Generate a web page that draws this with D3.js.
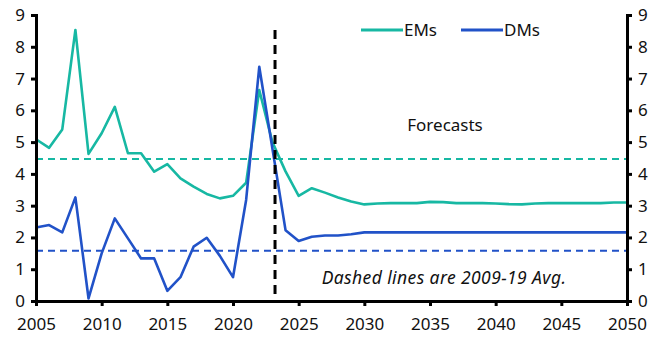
<!DOCTYPE html>
<html>
<head>
<meta charset="utf-8">
<script src="https://cdn.jsdelivr.net/npm/d3@7"></script>
<style>
  body { margin: 0; background: #fff; }
  text { font-family: "Noto Sans", "Open Sans", sans-serif; fill: #111; }
</style>
</head>
<body>
<svg id="chart" width="666" height="350"></svg>
<script>
var years = d3.range(2005, 2051);
var ems = [5.09, 4.82, 5.40, 8.53, 4.63, 5.28, 6.11, 4.65, 4.65, 4.07,
           4.31, 3.86, 3.60, 3.37, 3.23, 3.31, 3.72, 6.64, 5.00, 4.08,
           3.31, 3.55, 3.41, 3.26, 3.13, 3.04, 3.07, 3.08, 3.08, 3.08,
           3.12, 3.11, 3.08, 3.08, 3.08, 3.07, 3.05, 3.04, 3.07, 3.08,
           3.08, 3.08, 3.08, 3.08, 3.10, 3.10];
var dms = [2.31, 2.39, 2.16, 3.26, 0.08, 1.50, 2.60, 1.97, 1.34, 1.34,
           0.32, 0.75, 1.71, 1.99, 1.42, 0.75, 3.18, 7.37, 4.80, 2.23,
           1.89, 2.02, 2.06, 2.06, 2.10, 2.16, 2.16, 2.16, 2.16, 2.16,
           2.16, 2.16, 2.16, 2.16, 2.16, 2.16, 2.16, 2.16, 2.16, 2.16,
           2.16, 2.16, 2.16, 2.16, 2.16, 2.16];
var emAvg = 4.47, dmAvg = 1.58;
var forecastStart = 2023.2;
var xTicks = d3.range(2005, 2051, 5);
var yTicks = d3.range(0, 10);

var emColor = "#17b8a3", dmColor = "#2152c8";

var svg = d3.select("#chart"),
    margin = {top: 15, right: 39, bottom: 49, left: 36},
    width = 666 - margin.left - margin.right,
    height = 350 - margin.top - margin.bottom;

var x = d3.scaleLinear().domain([2005, 2050]).range([0, width]),
    y = d3.scaleLinear().domain([0, 9]).range([height, 0]);

var g = svg.append("g")
    .attr("transform", "translate(" + margin.left + "," + margin.top + ")");

// average lines
g.append("line")
    .attr("x1", 0).attr("x2", width)
    .attr("y1", y(emAvg)).attr("y2", y(emAvg))
    .attr("stroke", emColor).attr("stroke-width", 2)
    .attr("stroke-dasharray", "7,5");
g.append("line")
    .attr("x1", 0).attr("x2", width)
    .attr("y1", y(dmAvg)).attr("y2", y(dmAvg))
    .attr("stroke", dmColor).attr("stroke-width", 2)
    .attr("stroke-dasharray", "7,5");

var line = d3.line()
    .x(function (d, i) { return x(years[i]); })
    .y(function (d) { return y(d); });

g.append("path").datum(ems)
    .attr("fill", "none").attr("stroke", emColor)
    .attr("stroke-width", 2.6).attr("stroke-linejoin", "round")
    .attr("d", line);
g.append("path").datum(dms)
    .attr("fill", "none").attr("stroke", dmColor)
    .attr("stroke-width", 2.6).attr("stroke-linejoin", "round")
    .attr("d", line);

// forecast divider
g.append("line")
    .attr("x1", x(forecastStart)).attr("x2", x(forecastStart))
    .attr("y1", 15).attr("y2", height)
    .attr("stroke", "#000").attr("stroke-width", 3)
    .attr("stroke-dasharray", "9,6");

// axes
var xAxis = g.append("g")
    .attr("transform", "translate(0," + height + ")")
    .call(d3.axisBottom(x).tickValues(xTicks).tickFormat(d3.format("d")).tickSize(5).tickPadding(12));
var yLeft = g.append("g")
    .call(d3.axisLeft(y).tickValues(yTicks).tickSize(5).tickPadding(6));
var yRight = g.append("g")
    .attr("transform", "translate(" + width + ",0)")
    .call(d3.axisRight(y).tickValues(yTicks).tickSize(5).tickPadding(6));

[xAxis, yLeft, yRight].forEach(function (a) {
    a.select(".domain").attr("stroke", "#000").attr("stroke-width", 3);
    a.selectAll(".tick line").attr("stroke", "#000").attr("stroke-width", 3);
    a.selectAll(".tick text").style("font-size", "17px").attr("fill", "#111");
});

// legend
var legend = [{name: "EMs", color: emColor, x: 361}, {name: "DMs", color: dmColor, x: 461}];
legend.forEach(function (l) {
    svg.append("line")
        .attr("x1", l.x).attr("x2", l.x + 42)
        .attr("y1", 30).attr("y2", 30)
        .attr("stroke", l.color).attr("stroke-width", 3);
    svg.append("text")
        .attr("x", l.x + 43).attr("y", 36)
        .style("font-size", "17px")
        .text(l.name);
});

svg.append("text")
    .attr("x", 445).attr("y", 131)
    .attr("text-anchor", "middle")
    .style("font-size", "17px")
    .text("Forecasts");

svg.append("text")
    .attr("x", 444).attr("y", 284)
    .attr("text-anchor", "middle")
    .style("font-size", "17.5px")
    .style("font-style", "italic")
    .style("letter-spacing", "0.4px")
    .text("Dashed lines are 2009-19 Avg.");
</script>
</body>
</html>
